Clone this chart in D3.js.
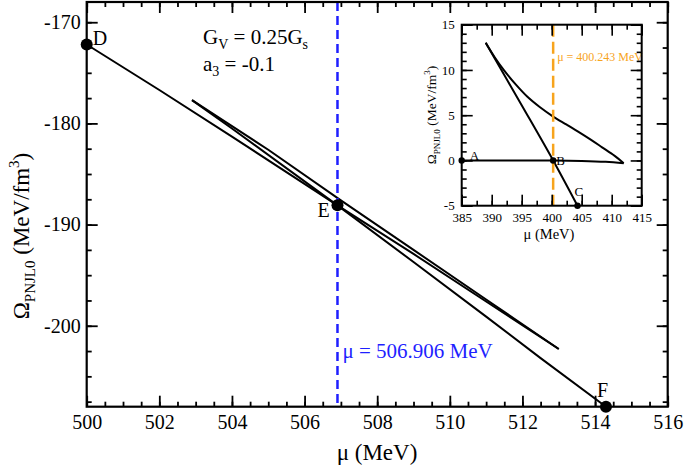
<!DOCTYPE html>
<html>
<head>
<meta charset="utf-8">
<script src="https://cdn.jsdelivr.net/npm/d3@7"></script>
<style>
  body { margin: 0; background: #fff; }
  svg text { font-family: "Liberation Serif", "Times New Roman", "DejaVu Serif", serif !important; }
</style>
</head>
<body>
<svg width="685" height="465"></svg>
<script>
// ---- main panel data ----
var mainXTicks = [500, 502, 504, 506, 508, 510, 512, 514, 516];
var mainYTicks = [-200, -190, -180, -170];
var muCross = 506.906;

// stable low-density branch, D -> spinodal
var branch1Mu = [500, 502, 504, 506.906, 509, 511, 513];
var branch1Om = [-172.2, -176.7, -181.3, -188.1, -192.9, -197.6, -202.3];
// unstable branch, spinodal -> cusp
var branch2Mu = [513, 511, 509, 507, 505, 502.9];
var branch2Om = [-202.3, -197.4, -192.5, -187.6, -182.6, -177.7];
// high-density branch, cusp -> F
var branch3Mu = [502.9, 504, 506.906, 509, 511, 512.5, 514.3];
var branch3Om = [-177.7, -180.5, -188.1, -193.7, -199.1, -203.2, -208.0];

var mainPointNames = ["D", "E", "F"];
var mainPointMu = [500, 506.906, 514.3];
var mainPointOm = [-172.2, -188.1, -208.0];

// ---- inset data ----
var insetXTicks = [385, 390, 395, 400, 405, 410, 415];
var insetYTicks = [-5, 0, 5, 10, 15];
var muInset = 400.243;

var flatMu = [385, 390, 395, 400.243, 405, 409, 412];
var flatOm = [0, 0, 0, 0, -0.05, -0.15, -0.3];
var upperMu = [412, 410.5, 408.4, 406.5, 404.6, 402.5, 400.243, 398, 396, 394, 392, 390.5, 389];
var upperOm = [-0.3, 0.5, 1.45, 2.3, 3.1, 3.95, 4.85, 5.9, 7.0, 8.4, 10.0, 11.4, 13];
var steepMu = [389, 395, 400.243, 404.3];
var steepOm = [13, 6.1, 0, -5];

var insetPointNames = ["A", "B", "C"];
var insetPointMu = [385, 400.243, 404.3];
var insetPointOm = [0, 0, -5];

var svg = d3.select("svg");

function range(a, b, s) {
    var out = [];
    for (var v = a; v <= b + 1e-9; v += s) out.push(+v.toFixed(4));
    return out;
}

// boxed frame with inward ticks on all four sides
function drawFrame(g, x, y, xMajor, xMinor, yMajor, yMinor, o) {
    var x0 = x.range()[0], x1 = x.range()[1], y0 = y.range()[0], y1 = y.range()[1];
    var parts = [];
    parts.push(g.append("g").attr("transform", "translate(0," + y0 + ")")
        .call(d3.axisBottom(x).tickValues(xMinor).tickSize(-o.minor).tickFormat("").tickSizeOuter(0)));
    parts.push(g.append("g").attr("transform", "translate(0," + y0 + ")")
        .call(d3.axisBottom(x).tickValues(xMajor).tickSize(-o.major).tickPadding(o.xPad).tickSizeOuter(0).tickFormat(d3.format("d"))));
    parts.push(g.append("g").attr("transform", "translate(0," + y1 + ")")
        .call(d3.axisTop(x).tickValues(xMinor).tickSize(-o.minor).tickFormat("").tickSizeOuter(0)));
    parts.push(g.append("g").attr("transform", "translate(0," + y1 + ")")
        .call(d3.axisTop(x).tickValues(xMajor).tickSize(-o.major).tickFormat("").tickSizeOuter(0)));
    parts.push(g.append("g").attr("transform", "translate(" + x0 + ",0)")
        .call(d3.axisLeft(y).tickValues(yMinor).tickSize(-o.minor).tickFormat("").tickSizeOuter(0)));
    parts.push(g.append("g").attr("transform", "translate(" + x0 + ",0)")
        .call(d3.axisLeft(y).tickValues(yMajor).tickSize(-o.major).tickPadding(o.yPad).tickSizeOuter(0).tickFormat(function (d) { return String(d); })));
    parts.push(g.append("g").attr("transform", "translate(" + x1 + ",0)")
        .call(d3.axisRight(y).tickValues(yMinor).tickSize(-o.minor).tickFormat("").tickSizeOuter(0)));
    parts.push(g.append("g").attr("transform", "translate(" + x1 + ",0)")
        .call(d3.axisRight(y).tickValues(yMajor).tickSize(-o.major).tickFormat("").tickSizeOuter(0)));
    parts.forEach(function (p) {
        p.attr("font-family", null).attr("font-size", o.font);
        p.select(".domain").remove();
        p.selectAll("line").attr("stroke", "#000").attr("stroke-width", o.tickWidth);
        p.selectAll("text").attr("fill", "#000");
    });
    g.append("rect")
        .attr("x", x0).attr("y", y1)
        .attr("width", x1 - x0).attr("height", y0 - y1)
        .attr("fill", "none").attr("stroke", "#000").attr("stroke-width", o.frameWidth);
}

function zipLine(mu, om) {
    return mu.map(function (m, i) { return [m, om[i]]; });
}

// ---------------- main panel ----------------
var x = d3.scaleLinear().domain([500, 516]).range([86.7, 667.7]);
var y = d3.scaleLinear().domain([-208, -168]).range([406.7, 2]);

var main = svg.append("g");

var line = d3.line()
    .x(function (d) { return x(d[0]); })
    .y(function (d) { return y(d[1]); });

[zipLine(branch1Mu, branch1Om), zipLine(branch2Mu, branch2Om), zipLine(branch3Mu, branch3Om)]
    .forEach(function (d) {
        main.append("path").datum(d)
            .attr("fill", "none").attr("stroke", "#000")
            .attr("stroke-width", 2).attr("stroke-linejoin", "round")
            .attr("d", line);
    });

main.append("line")
    .attr("x1", x(muCross)).attr("x2", x(muCross))
    .attr("y1", y(-168)).attr("y2", y(-208))
    .attr("stroke", "#1f1fff").attr("stroke-width", 2.5)
    .attr("stroke-dasharray", "9,5");

main.append("text")
    .attr("x", x(muCross) + 5).attr("y", 358)
    .attr("fill", "#1f1fff").attr("font-size", 21)
    .text("\u03bc = 506.906 MeV");

drawFrame(main, x, y, mainXTicks, range(500, 516, 0.5), mainYTicks, range(-207.5, -167.5, 2.5),
    { major: 11, minor: 5, xPad: 8, yPad: 6, font: 20, tickWidth: 1.8, frameWidth: 2.2 });

main.selectAll(".pt").data(mainPointMu).enter().append("circle")
    .attr("cx", function (d) { return x(d); })
    .attr("cy", function (d, i) { return y(mainPointOm[i]); })
    .attr("r", 6).attr("fill", "#000");

var mainLabelDx = [6, -20, -9];
var mainLabelDy = [1, 12, -10];
main.selectAll(".lbl").data(mainPointNames).enter().append("text")
    .attr("x", function (d, i) { return x(mainPointMu[i]) + mainLabelDx[i]; })
    .attr("y", function (d, i) { return y(mainPointOm[i]) + mainLabelDy[i]; })
    .attr("font-size", 20).text(function (d) { return d; });

var gv = main.append("text").attr("x", 203).attr("y", 44).attr("font-size", 21);
gv.append("tspan").text("G");
gv.append("tspan").attr("font-size", 14).attr("dy", 5).text("V");
gv.append("tspan").attr("dy", -5).text(" = 0.25G");
gv.append("tspan").attr("font-size", 14).attr("dy", 5).text("s");

var a3 = main.append("text").attr("x", 203).attr("y", 71).attr("font-size", 21);
a3.append("tspan").text("a");
a3.append("tspan").attr("font-size", 14).attr("dy", 5).text("3");
a3.append("tspan").attr("dy", -5).text(" = -0.1");

var yTitle = main.append("text")
    .attr("transform", "translate(29,236) rotate(-90)")
    .attr("text-anchor", "middle").attr("font-size", 23);
yTitle.append("tspan").text("\u03a9");
yTitle.append("tspan").attr("font-size", 15).attr("dy", 6).text("PNJL0");
yTitle.append("tspan").attr("dy", -6).text(" (MeV/fm");
yTitle.append("tspan").attr("font-size", 15).attr("dy", -10).text("3");
yTitle.append("tspan").attr("dy", 10).text(")");

main.append("text")
    .attr("x", 377).attr("y", 460)
    .attr("text-anchor", "middle").attr("font-size", 23)
    .text("\u03bc (MeV)");

// ---------------- inset ----------------
var xi = d3.scaleLinear().domain([385, 415]).range([461.7, 641.7]);
var yi = d3.scaleLinear().domain([-5, 15]).range([205.7, 24.7]);

var inset = svg.append("g");
inset.append("rect")
    .attr("x", 461.7).attr("y", 24.7).attr("width", 180).attr("height", 181)
    .attr("fill", "#fff");

var lineI = d3.line()
    .x(function (d) { return xi(d[0]); })
    .y(function (d) { return yi(d[1]); })
    .curve(d3.curveCatmullRom);

[zipLine(flatMu, flatOm), zipLine(upperMu, upperOm), zipLine(steepMu, steepOm)]
    .forEach(function (d) {
        inset.append("path").datum(d)
            .attr("fill", "none").attr("stroke", "#000")
            .attr("stroke-width", 2).attr("stroke-linejoin", "round")
            .attr("d", lineI);
    });

inset.append("line")
    .attr("x1", xi(muInset)).attr("x2", xi(muInset))
    .attr("y1", yi(15)).attr("y2", yi(-5))
    .attr("stroke", "#f7a41d").attr("stroke-width", 2.5)
    .attr("stroke-dasharray", "12,5");

inset.append("text")
    .attr("x", xi(muInset) + 4).attr("y", 61)
    .attr("fill", "#f7a41d").attr("font-size", 12)
    .text("\u03bc = 400.243 MeV");

drawFrame(inset, xi, yi, insetXTicks, range(385, 415, 2.5), insetYTicks, range(-5, 15, 1),
    { major: 11, minor: 5, xPad: 7, yPad: 7, font: 13, tickWidth: 1.6, frameWidth: 2 });

inset.selectAll(".pt").data(insetPointMu).enter().append("circle")
    .attr("cx", function (d) { return xi(d); })
    .attr("cy", function (d, i) { return yi(insetPointOm[i]); })
    .attr("r", 3.2).attr("fill", "#000");

var insetLabelDx = [8, 3, -3];
var insetLabelDy = [0, 5, -10];
inset.selectAll(".lbl").data(insetPointNames).enter().append("text")
    .attr("x", function (d, i) { return xi(insetPointMu[i]) + insetLabelDx[i]; })
    .attr("y", function (d, i) { return yi(insetPointOm[i]) + insetLabelDy[i]; })
    .attr("font-size", 13).text(function (d) { return d; });

var yiTitle = inset.append("text")
    .attr("transform", "translate(436,115) rotate(-90)")
    .attr("text-anchor", "middle").attr("font-size", 13.5);
yiTitle.append("tspan").text("\u03a9");
yiTitle.append("tspan").attr("font-size", 9).attr("dy", 4).text("PNJL0");
yiTitle.append("tspan").attr("dy", -4).text(" (MeV/fm");
yiTitle.append("tspan").attr("font-size", 9).attr("dy", -6).text("3");
yiTitle.append("tspan").attr("dy", 6).text(")");

inset.append("text")
    .attr("x", 549).attr("y", 239)
    .attr("text-anchor", "middle").attr("font-size", 14.5)
    .text("\u03bc (MeV)");
</script>
</body>
</html>
